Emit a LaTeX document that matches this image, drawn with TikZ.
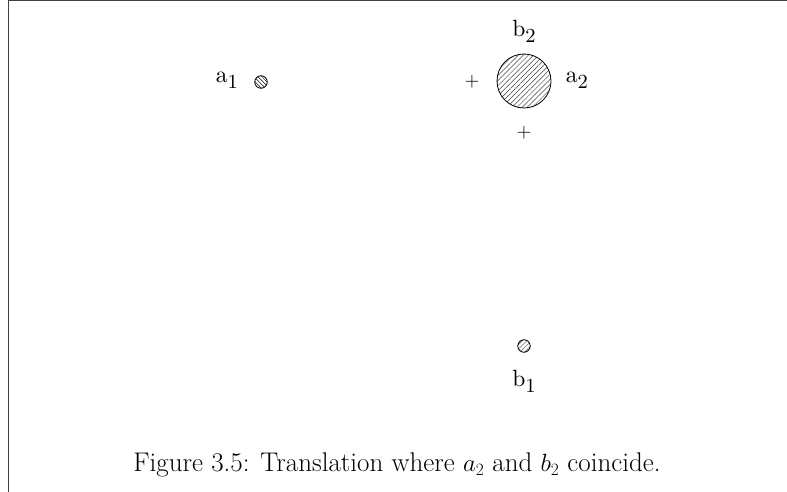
\documentclass[tikz,border=0pt]{standalone}
\usepackage{fontspec}
\usetikzlibrary{patterns.meta}
\begin{document}
\begin{tikzpicture}[x=1pt,y=-1pt,
  lbl/.style={inner sep=0pt},
  plus/.style={inner sep=0pt},
  dot/.style={circle, draw, line width=0.8pt, inner sep=0pt, minimum size=12.5pt}]
\newcommand\lab[2]{\scalebox{2.35}{\fontsize{10}{10}\selectfont #1\raisebox{-2.5pt}{\fontsize{8.5}{8.5}\selectfont #2}}}
\newcommand\pl{\scalebox{1.9}{\fontsize{10}{10}\selectfont $+$}}
\useasboundingbox (0,0) rectangle (787,492);
\draw[line width=1pt, black!75] (8,492) -- (8,1) -- (787,1);
% a1
\node[dot, pattern={Lines[angle=-45,distance=2.8pt,line width=0.5pt]}] (ca1) at (261,82) {};
\node[lbl] (la1) at (227,80) {\lab{a}{1}};
% big circle
\node[circle, draw, line width=0.8pt, minimum size=54pt, inner sep=0pt, pattern={Lines[angle=45,distance=3.6pt,line width=0.5pt]}, pattern color=black!75] (big) at (524,81) {};
\node[lbl] (lb2) at (524,31) {\lab{b}{2}};
\node[lbl] (la2) at (577,80) {\lab{a}{2}};
\node[plus] (p1) at (472,82) {\pl};
\node[plus] (p2) at (524,133) {\pl};
% b1
\node[dot, pattern={Lines[angle=45,distance=3.2pt,line width=0.5pt]}, pattern color=black!75] (cb1) at (524,346) {};
\node[lbl] (lb1) at (524,381) {\lab{b}{1}};
% caption
\node[font=\fontsize{27}{32}\selectfont, inner sep=0pt] (cap) at (397,465) {Figure 3.5: Translation where $a_2$ and $b_2$ coincide.};
\end{tikzpicture}
\end{document}
